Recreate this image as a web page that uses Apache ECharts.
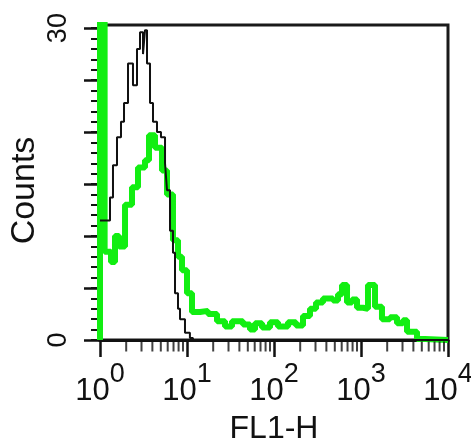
<!DOCTYPE html>
<html><head><meta charset="utf-8">
<script src="https://cdn.jsdelivr.net/npm/echarts@6/dist/echarts.min.js"></script>
<style>html,body{margin:0;padding:0;background:#fff}#c{width:471px;height:447px}</style>
</head><body><div id="c"></div>
<script>
// ---- data ----
const xMinorTicks = [2,3,4,5,6,7,8,9, 20,30,40,50,60,70,80,90, 200,300,400,500,600,700,800,900, 2000,3000,4000,5000,6000,7000,8000,9000];
const yMajorTicks = [0,5,10,15,20,25,30];
const yMinorTicks = [0,1,2,3,4,5,6,7,8,9,10,11,12,13,14,15,16,17,18,19,20,21,22,23,24,25,26,27,28,29,30];
const yLabelTicks = [0,30];

// control (black) histogram: bin start (FL1-H) and counts
const controlX = [1.0, 1.303, 1.41, 1.568, 1.743, 1.888, 2.099, 2.394, 2.662, 2.883, 3.121, 3.29, 3.47, 3.757, 4.066, 4.52, 5.02, 5.59, 5.89, 6.38, 6.90, 7.28, 7.88, 8.31, 9.48, 10.8, 11.7, 10000];
const controlCounts = [11.5, 13.7, 16.8, 19.5, 21, 22.8, 26.6, 24.5, 28, 29.6, 27.5, 29.8, 26.6, 22.8, 21, 20, 19.5, 17, 14.4, 10.5, 8.4, 4.5, 3, 2, 0.7, 0.2, 0, 0];

// stained (green) histogram
const stainedX = [1.0, 1.0, 1.13, 1.338, 1.487, 1.654, 1.939, 2.333, 2.734, 3.29, 3.658, 4.288, 5.159, 5.89, 6.90, 7.88, 8.76, 10.0, 11.41, 14.11, 17.43, 22.13, 27.35, 32.9, 44.0, 53.0, 60.5, 72.8, 90.0, 111.2, 144.9, 179.0, 215.4, 259.2, 304.0, 365.6, 476.4, 544.3, 605.0, 690.9, 788.8, 900, 1054, 1203, 1448, 1742, 2154, 2593, 3040, 3381, 4404, 5442, 10000];
const stainedCounts = [0, 40, 8.5, 7.5, 10, 9, 13, 14.7, 16.6, 17.3, 19.7, 18.5, 16.3, 14, 9.6, 8, 6.7, 4.5, 2.7, 2.8, 2.5, 1.8, 1.3, 1.8, 1.5, 1.0, 1.6, 1.2, 1.7, 1.3, 1.7, 1.4, 2.3, 3.0, 3.6, 4.0, 3.8, 4.4, 5.3, 3.6, 3.9, 3.1, 3.0, 5.3, 3.2, 2.0, 2.2, 1.6, 1.9, 0.8, 0.1, 0, 0];

const xName = 'FL1-H';
const yName = 'Counts';

// ---- chart ----
const FONT = "'Liberation Sans', Arial, sans-serif";
const INK = '#111';
const chart = echarts.init(document.getElementById('c'), null, {renderer: 'canvas'});
chart.setOption({
  animation: false,
  backgroundColor: '#fff',
  grid: {left: 100, right: 23, top: 25, bottom: 107, show: true, borderColor: '#1a1a1a', borderWidth: 3,
         outerBoundsMode: 'none', containLabel: false},
  xAxis: {
    type: 'log', logBase: 10, min: 1, max: 10000,
    axisLine: {show: true, lineStyle: {color: INK, width: 3}},
    axisTick: {show: true, length: 17, lineStyle: {color: INK, width: 2.5}},
    splitLine: {show: false},
    axisLabel: {
      margin: 36, color: INK, hideOverlap: false,
      formatter: v => '{b|10}{s|' + Math.round(Math.log10(v)) + '}',
      rich: {
        b: {fontSize: 31, fontFamily: FONT, color: INK, verticalAlign: 'bottom', lineHeight: 31},
        s: {fontSize: 27, fontFamily: FONT, color: INK, verticalAlign: 'bottom', lineHeight: 27, padding: [0, 0, 19, 0]}
      }
    },
    name: xName, nameLocation: 'middle', nameGap: 73, nameMoveOverlap: false,
    nameTextStyle: {fontSize: 32, fontFamily: FONT, color: INK}
  },
  yAxis: [{
    type: 'value', min: 0, max: 30.3,
    axisLine: {show: true, lineStyle: {color: INK, width: 3}},
    axisTick: {show: true, customValues: yMajorTicks, length: 16, lineStyle: {color: INK, width: 2.5}},
    axisLabel: {customValues: yLabelTicks, rotate: 90, margin: 28, fontSize: 27, fontFamily: FONT, color: INK},
    splitLine: {show: false},
    name: yName, nameLocation: 'middle', nameRotate: 90, nameGap: 58, nameMoveOverlap: false,
    nameTextStyle: {fontSize: 34, fontFamily: FONT, color: INK, padding: [0, 16, 0, 0]}
  }, {
    type: 'value', min: 0, max: 30.3, position: 'left',
    axisLine: {show: false},
    axisTick: {show: true, customValues: yMinorTicks, length: 9, lineStyle: {color: INK, width: 2}},
    axisLabel: {show: false},
    splitLine: {show: false}
  }],
  series: [
    {
      type: 'scatter', clip: false, silent: true,
      data: xMinorTicks.map(v => [v, 0]),
      symbol: 'rect', symbolSize: [2, 10], symbolOffset: [0, 6.5],
      itemStyle: {color: INK}, z: 5
    },
    {
      name: 'stained', type: 'line', step: 'end', showSymbol: false,
      data: stainedX.map((x, i) => [x, stainedCounts[i]]),
      lineStyle: {color: '#12ee12', width: 6}, z: 2
    },
    {
      name: 'control', type: 'line', step: 'end', showSymbol: false,
      data: controlX.map((x, i) => [x, controlCounts[i]]),
      lineStyle: {color: INK, width: 2}, z: 3
    }
  ]
});
</script></body></html>
